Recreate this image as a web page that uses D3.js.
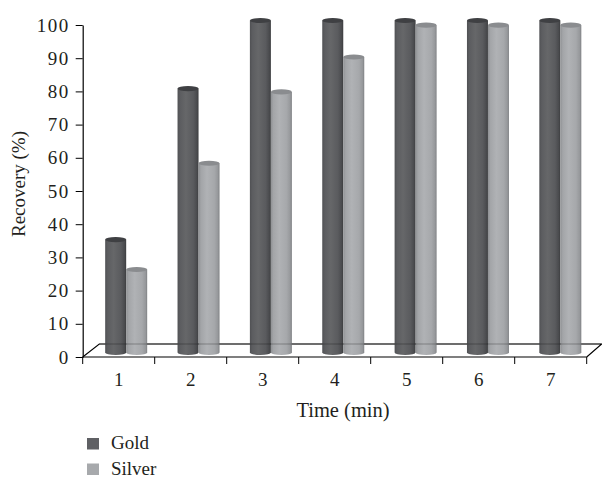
<!DOCTYPE html>
<html>
<head>
<meta charset="utf-8">
<script src="https://cdn.jsdelivr.net/npm/d3@7"></script>
<style>
  html, body { margin: 0; padding: 0; background: #fff; }
  svg text { font-family: "Liberation Serif", "Times New Roman", serif; fill: #231f20; }
</style>
</head>
<body>
<svg id="chart" width="602" height="479"></svg>
<script>
// ---- data ----
const categories = ["1", "2", "3", "4", "5", "6", "7"];
const seriesNames = ["Gold", "Silver"];
const goldValues = [34, 79.5, 100, 100, 100, 100, 100];
const silverValues = [25, 57, 78.5, 89, 98.6, 98.6, 98.6];
const yTicks = [0, 10, 20, 30, 40, 50, 60, 70, 80, 90, 100];
const xTitle = "Time (min)";
const yTitle = "Recovery (%)";

const values = { Gold: goldValues, Silver: silverValues };

const svg = d3.select("#chart");
const defs = svg.append("defs");

// gradients for cylinders
function grad(id, stops) {
  const g = defs.append("linearGradient").attr("id", id)
    .attr("x1", "0%").attr("x2", "100%").attr("y1", "0%").attr("y2", "0%");
  stops.forEach(([o, c]) => g.append("stop").attr("offset", o).attr("stop-color", c));
}
grad("gGold", [["0%", "#505154"], ["12%", "#5c5d60"], ["40%", "#666769"], ["75%", "#5a5b5e"], ["92%", "#4a4b4e"], ["100%", "#3c3d3f"]]);
grad("gSilver", [["0%", "#8f9194"], ["12%", "#a3a5a8"], ["40%", "#b0b2b5"], ["75%", "#a6a8ab"], ["92%", "#96989b"], ["100%", "#7f8184"]]);
const fills = { Gold: "url(#gGold)", Silver: "url(#gSilver)" };
const tops = { Gold: "#3f4043", Silver: "#8a8c8f" };
const legendColors = { Gold: "#5f6064", Silver: "#a7a9ac" };

// geometry
const x0 = 82.7, x1 = 586.7, yBase = 357, yTop = 25;
const depthX = 16.6, depthY = 13;
const x = d3.scaleBand().domain(categories).range([x0, x1]).padding(0);
const y = d3.scaleLinear().domain([0, 100]).range([yBase, yTop]);
// bars sit in the depth of the floor
const xb = d3.scaleBand().domain(categories).range([x0 + 7.3, x1 + 9.8]).padding(0);
const barShiftY = 4.5;
const cylW = 21, ry = 2.6;
const xs = d3.scaleBand().domain(seriesNames).range([-cylW, cylW]).padding(0);

// floor (back part)
svg.append("path")
  .attr("d", `M${x0},${yBase} L${x0 + depthX},${yBase - depthY} L${x1 + depthX - 1.6},${yBase - depthY} L${x1},${yBase}`)
  .attr("fill", "none").attr("stroke", "#000").attr("stroke-width", 1.1);

// bars
const gBars = svg.append("g");
categories.forEach((c, i) => {
  const cx = xb(c) + xb.bandwidth() / 2;
  seriesNames.forEach(s => {
    const v = values[s][i];
    const left = cx + xs(s);
    const bottom = y(0) - barShiftY;
    const topY = y(v) - barShiftY;
    const w = xs.bandwidth();
    const rx = w / 2;
    gBars.append("path")
      .attr("d", `M${left},${topY} L${left},${bottom} A${rx},${ry} 0 0 0 ${left + w},${bottom} L${left + w},${topY} Z`)
      .attr("fill", fills[s]);
    gBars.append("ellipse")
      .attr("cx", left + rx).attr("cy", topY).attr("rx", rx).attr("ry", ry)
      .attr("fill", tops[s]);
  });
});

// faint back line seen through bars
svg.append("line")
  .attr("x1", x0 + depthX).attr("x2", x1 + depthX - 1.6)
  .attr("y1", yBase - depthY).attr("y2", yBase - depthY)
  .attr("stroke", "#000").attr("stroke-opacity", 0.28).attr("stroke-width", 1);

// front floor line
svg.append("line").attr("x1", x0).attr("x2", x1).attr("y1", yBase).attr("y2", yBase)
  .attr("stroke", "#000").attr("stroke-width", 1.1);

// y axis
const yAxis = svg.append("g").attr("transform", `translate(${x0},0)`)
  .call(d3.axisLeft(y).tickValues(yTicks).tickSize(7).tickSizeOuter(0).tickPadding(6));
yAxis.select(".domain").attr("stroke", "#000").attr("stroke-width", 1.2);
yAxis.selectAll(".tick line").attr("stroke", "#000").attr("stroke-width", 1);
yAxis.selectAll(".tick text").attr("font-size", 19).attr("fill", "#231f20")
  .style("font-family", "'Liberation Serif', serif").style("letter-spacing", "1.5px");

// x axis labels
const xAxis = svg.append("g").attr("transform", `translate(0,${yBase})`)
  .call(d3.axisBottom(x).tickSize(0).tickPadding(16));
xAxis.select(".domain").remove();
xAxis.selectAll(".tick text").attr("font-size", 19).attr("fill", "#231f20")
  .style("font-family", "'Liberation Serif', serif");
// boundary ticks
const bounds = categories.map(c => x(c)).concat([x(categories[categories.length - 1]) + x.bandwidth()]);
svg.append("g").selectAll("line").data(bounds).join("line")
  .attr("x1", d => d).attr("x2", d => d).attr("y1", yBase).attr("y2", yBase + 7)
  .attr("stroke", "#000").attr("stroke-width", 1);

// titles
svg.append("text").attr("x", 343).attr("y", 417).attr("text-anchor", "middle")
  .attr("font-size", 20.5).text(xTitle);
svg.append("text").attr("transform", "translate(25,184) rotate(-90)").attr("text-anchor", "middle")
  .attr("font-size", 19).text(yTitle);

// legend
const leg = svg.append("g");
seriesNames.forEach((s, i) => {
  const gy = 438 + i * 25.5;
  leg.append("rect").attr("x", 87).attr("y", gy).attr("width", 12).attr("height", 11.5)
    .attr("fill", legendColors[s]);
  leg.append("text").attr("x", 111).attr("y", gy + 11.2).attr("font-size", 19).text(s);
});
</script>
</body>
</html>
